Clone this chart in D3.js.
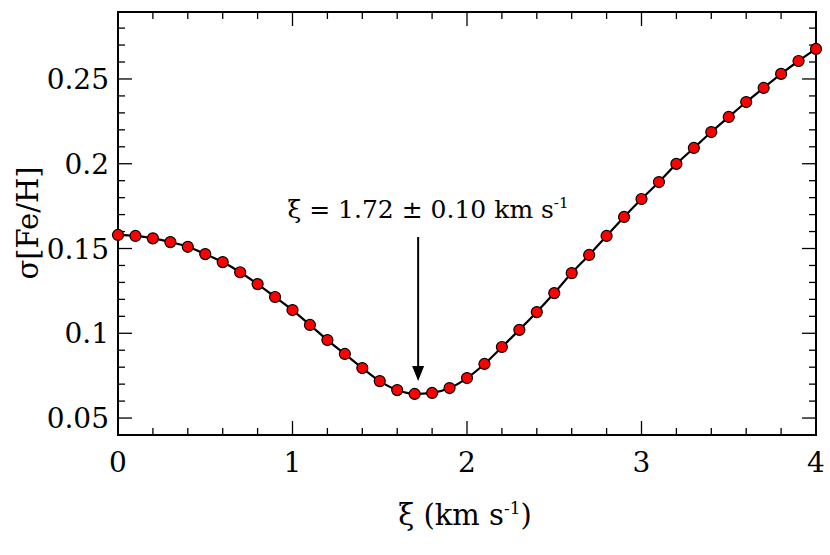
<!DOCTYPE html><html><head><meta charset="utf-8"><script src="https://d3js.org/d3.v7.min.js"></script>
<style>body{margin:0;background:#fff}text{font-family:"DejaVu Serif",serif}</style></head><body><svg id="c" width="830" height="555"></svg>
<script>
const xi=[0,0.1,0.2,0.3,0.4,0.5,0.6,0.7,0.8,0.9,1.0,1.1,1.2,1.3,1.4,1.5,1.6,1.7,1.8,1.9,2.0,2.1,2.2,2.3,2.4,2.5,2.6,2.7,2.8,2.9,3.0,3.1,3.2,3.3,3.4,3.5,3.6,3.7,3.8,3.9,4.0];
const sigma=[0.158,0.1574,0.156,0.1538,0.151,0.1467,0.142,0.136,0.129,0.1214,0.1137,0.1049,0.096,0.0878,0.0795,0.0718,0.0665,0.0642,0.0648,0.0677,0.0736,0.0819,0.0919,0.102,0.1125,0.1237,0.1355,0.1462,0.1574,0.1686,0.1792,0.1892,0.1999,0.2093,0.2187,0.2276,0.2364,0.2447,0.253,0.2606,0.2677];
const xTicks=[0,1,2,3,4], yTicks=[0.05,0.1,0.15,0.2,0.25];
const yLabels=["0.05","0.1","0.15","0.2","0.25"];
const L=118,R=816,T=12,B=435;
const x=d3.scaleLinear().domain([0,4]).range([L,R]);
const y=d3.scaleLinear().domain([0.04,0.2895]).range([B,T]);
const svg=d3.select("#c");
const g=svg.append("g");
const xMin=d3.range(0,4.001,0.2), yMin=d3.range(0.04,0.2895,0.01);
[[B,-1],[T,1]].forEach(([yy,s])=>{
 g.selectAll(null).data(xMin).enter().append("line").attr("x1",d=>x(d)).attr("x2",d=>x(d)).attr("y1",yy).attr("y2",d=>yy+s*(Math.abs(d-Math.round(d))<1e-6?14:7)).attr("stroke","#000").attr("stroke-width",1.3);
});
[[L,1],[R,-1]].forEach(([xx,s])=>{
 g.selectAll(null).data(yMin).enter().append("line").attr("y1",d=>y(d)).attr("y2",d=>y(d)).attr("x1",xx).attr("x2",d=>xx+s*(Math.abs(d*20-Math.round(d*20))<1e-6?14:7)).attr("stroke","#000").attr("stroke-width",1.3);
});
g.append("rect").attr("x",L).attr("y",T).attr("width",R-L).attr("height",B-T).attr("fill","none").attr("stroke","#000").attr("stroke-width",2);
g.selectAll(null).data(xTicks).enter().append("text").attr("x",d=>x(d)).attr("y",B+37).attr("text-anchor","middle").attr("font-size",28).text(d=>d);
g.selectAll(null).data(yTicks).enter().append("text").attr("x",L-9).attr("y",(d)=>y(d)+10).attr("text-anchor","end").attr("font-size",28).text((d,i)=>yLabels[i]);
const pts=xi.map((d,i)=>[d,sigma[i]]);
g.append("path").datum(pts).attr("d",d3.line().x(d=>x(d[0])).y(d=>y(d[1])).curve(d3.curveMonotoneX)).attr("fill","none").attr("stroke","#000").attr("stroke-width",2.2);
g.selectAll(null).data(pts).enter().append("circle").attr("cx",d=>x(d[0])).attr("cy",d=>y(d[1])).attr("r",5.5).attr("fill","#f00").attr("stroke","#000").attr("stroke-width",1.2);
const ax=x(1.72);
g.append("line").attr("x1",ax).attr("x2",ax).attr("y1",237).attr("y2",372).attr("stroke","#000").attr("stroke-width",2);
g.append("path").attr("d",`M${ax-6},366 L${ax},381 L${ax+6},366 Z`).attr("fill","#000");
const t=g.append("text").attr("x",428).attr("y",218).attr("text-anchor","middle").attr("font-size",25);
t.append("tspan").text("ξ = 1.72 ± 0.10 km s");t.append("tspan").attr("font-size",15).attr("dy",-10).text("-1");
const xl=g.append("text").attr("x",465).attr("y",525).attr("text-anchor","middle").attr("font-size",29);
xl.append("tspan").text("ξ (km s");xl.append("tspan").attr("font-size",17).attr("dy",-11).text("-1");xl.append("tspan").attr("dy",11).text(")");
g.append("text").attr("transform","translate(38,223) rotate(-90)").attr("text-anchor","middle").attr("font-size",29).text("σ[Fe/H]");
</script></body></html>
